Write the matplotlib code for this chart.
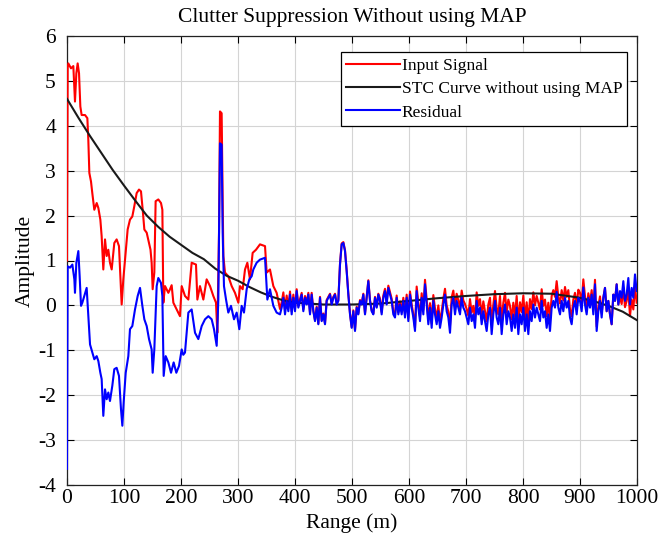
import numpy as np
import matplotlib
matplotlib.use("Agg")
import matplotlib.pyplot as plt

plt.rcParams['font.family'] = ['Liberation Serif', 'DejaVu Serif']
plt.rcParams['axes.unicode_minus'] = False

title = "Clutter Suppression Without using MAP"
xlabel = "Range (m)"
ylabel = "Amplitude"
legend_labels = ["Input Signal", "STC Curve without using MAP", "Residual"]
xticks = list(range(0, 1001, 100))
yticks = list(range(-4, 7, 1))

# ---- early (0-370 m) input signal ----
range_input_early = [0, 1.2, 2.3, 7.0, 11.1, 14.0, 16.4, 18.7, 21.1, 23.4, 25.7, 31.6, 35.7, 37.4,
                     39.2, 42.1, 44.4, 47.9, 52.1, 55.0, 58.5, 60.8, 63.7, 66.7, 69.6, 72.5, 75.4,
                     78.4, 83.0, 87.1, 91.2, 93.6, 95.9, 98.8, 101.8, 106.4, 110.5, 114.6, 118.1,
                     122.2, 126.3, 129.8, 132.8, 135.7, 139.8, 143.9, 146.5, 148.5, 150.3, 153.2,
                     155.5, 160.2, 164.9, 167.3, 169.0, 172.0, 177.8, 180.7, 183.6, 186.6, 192.4,
                     198.2, 201.2, 207.0, 212.9, 218.7, 226.3, 228.7, 233.3, 239.2, 245.0, 250.9,
                     256.7, 261.4, 263.7, 266.7, 268.4, 271.3, 273.1, 274.3, 277.2, 283.0, 288.9,
                     294.7, 300.6, 303.5, 308.2, 312.3, 316.4, 321.0, 325.7, 331.6, 338.6, 347.4,
                     350.3, 356.1, 362.0, 367.8]
input_early = [1.0, 5.30, 5.39, 5.28, 5.33, 4.54, 5.17, 5.39, 5.17, 4.43, 4.24, 4.24, 4.17, 3.69,
               2.95, 2.76, 2.50, 2.13, 2.28, 2.17, 1.91, 1.54, 0.80, 1.47, 1.10, 1.24, 0.95,
               0.80, 1.39, 1.47, 1.32, 0.65, 0.02, 0.58, 1.02, 1.69, 1.91, 1.98, 2.21,
               2.50, 2.58, 2.54, 2.13, 1.69, 1.62, 1.39, 1.24, 0.95, 0.36, 0.73,
               2.32, 2.36, 2.28, 2.13, 0.06, 0.43, 0.28, 0.36, 0.45, 0.06, -0.09,
               -0.24, 0.43, 0.21, 0.13, 0.95, 0.91, 0.13, 0.43, 0.13, 0.58, 0.43,
               0.21, 0.06, -0.61, 1.62, 4.32, 4.28, 2.36, 1.10, 0.73, 0.65, 0.43,
               0.28, 0.06, 0.43, 0.36, 0.80, 0.95, 0.58, 1.17, 1.24, 1.36, 1.32,
               0.73, 0.80, 0.43, 0.28]

# ---- early (0-370 m) residual ----
range_resid_early = [0, 1.2, 5.3, 9.4, 12.9, 14.0, 16.4, 19.9, 22.2, 24.6, 26.9, 30.4, 34.5, 37.4,
                     40.4, 44.4, 47.9, 52.1, 55.0, 58.5, 60.8, 63.7, 66.7, 69.6, 72.5, 75.4, 79.5,
                     83.0, 87.1, 91.2, 94.7, 97.1, 99.4, 103.0, 107.6, 110.5, 114.6, 119.3, 124.0,
                     128.1, 132.2, 135.7, 139.8, 143.9, 148.5, 150.3, 153.2, 157.3, 160.2, 164.9,
                     167.3, 169.6, 173.1, 177.8, 182.5, 187.1, 191.8, 196.5, 201.2, 204.0, 207.0,
                     209.9, 212.9, 218.7, 224.6, 230.4, 236.3, 242.1, 248.0, 253.8, 257.9, 262.6,
                     265.5, 268.4, 271.3, 273.1, 275.4, 279.0, 283.0, 287.7, 293.0, 297.7, 302.3,
                     306.4, 310.5, 315.2, 319.9, 324.0, 326.9, 332.7, 338.6, 347.4, 351.5, 356.1,
                     362.0, 367.8]
resid_early = [-3.64, 0.87, 0.84, 0.91, 0.58, 0.28, 0.95, 1.21, 0.65, -0.01, 0.06, 0.21, 0.39, -0.24,
               -0.87, -1.05, -1.20, -1.13, -1.24, -1.50, -1.64, -2.46, -1.87, -2.09, -1.94, -2.13, -1.79,
               -1.42, -1.39, -1.57, -2.31, -2.68, -2.16, -1.50, -1.13, -0.53, -0.46, -0.09, 0.21,
               0.39, -0.01, -0.31, -0.46, -0.75, -0.98, -1.50, -0.98, 0.43, 0.61, 0.50,
               0.21, -1.57, -1.13, -1.27, -1.50, -1.27, -1.50, -1.35, -0.98, -1.10, -1.05,
               -0.61, -0.16, -0.09, -0.61, -0.75, -0.46, -0.31, -0.24, -0.31, -0.53, -0.90,
               0.13, 3.61, 3.58, 1.62, 0.43, 0.13, -0.16, -0.01, -0.31, -0.16, -0.53,
               -0.01, -0.16, 0.36, 0.58, 0.65, 0.80, 0.95, 1.02, 1.06, 0.13, 0.36,
               -0.01, -0.16]

# ---- fine sampled noisy part (374-1000 m), read every ~3 m ----
input_fine = [
    -0.08, 0.07, 0.29, -0.08, 0.22, -0.06, 0.31, -0.13, 0.24, -0.06,
    0.36, -0.01, 0.14, 0.28, -0.09, 0.21, 0.06, 0.28, -0.16, 0.28,
    -0.11, -0.33, -0.03, -0.40, 0.19, -0.33, -0.18, -0.40, 0.12, 0.19,
    0.26, 0.04, 0.19, 0.26, 0.04, 0.12, 0.93, 1.38, 1.41, 1.23,
    0.78, 0.26, -0.18, -0.48, -0.11, -0.55, -0.03, -0.18, 0.12, 0.04,
    0.26, -0.18, 0.19, 0.56, 0.12, -0.11, -0.18, 0.19, -0.03, 0.26,
    0.15, -0.15, 0.22, 0.37, 0.07, 0.44, 0.29, 0.15, -0.15, -0.22, 0.22, -0.15,
    0.09, -0.13, 0.17, -0.20, 0.24, -0.28, 0.31, 0.02, -0.20, -0.50,
    0.42, 0.05, -0.25, 0.27, -0.10, 0.57, 0.12, -0.32, 0.05, -0.40,
    0.23, -0.07, -0.29, 0.00, -0.37, -0.14, 0.15, 0.37, 0.00, -0.14,
    -0.45, 0.18, 0.33, -0.04, 0.26, 0.11, -0.04, 0.33, 0.11, 0.03,
    -0.08, -0.23, 0.14, -0.16, -0.01, -0.31, 0.29, -0.01, 0.14, -0.23,
    0.09, -0.13, -0.35, 0.02, 0.17, -0.42, 0.02, 0.32, -0.05, -0.20,
    0.21, -0.38, 0.06, 0.28, -0.16, 0.13, -0.01, -0.31, 0.06, -0.24, 0.21, -0.38,
    0.07, -0.15, 0.22, -0.30, 0.07, -0.37, 0.14, -0.08, 0.29, 0.00,
    0.21, 0.06, -0.09, 0.36, -0.01, 0.13, -0.24, 0.06, -0.31, 0.21,
    0.34, 0.19, 0.54, 0.19, 0.04, 0.34, 0.11, 0.41, 0.19, 0.34,
    -0.09, -0.24, 0.13, 0.28, -0.02, 0.35, 0.28, 0.05, 0.58, 0.20,
    -0.10, 0.27, 0.05, 0.34, -0.10, 0.57, -0.47, -0.03, 0.20, -0.17,
    0.17, 0.39, -0.13, 0.10, -0.20, -0.42, 0.24, 0.10, 0.47, 0.02,
    0.18, 0.03, 0.40, -0.04, 0.10, 0.35, -0.24, 0.13, -0.09, 0.43, 0.06]

resid_fine = [
    -0.20, -0.05, 0.17, -0.20, 0.10, -0.13, 0.24, -0.20, 0.17, -0.13,
    0.32, -0.05, 0.10, 0.24, -0.13, 0.17, 0.02, 0.24, -0.20, 0.24,
    -0.13, -0.35, -0.05, -0.42, 0.17, -0.35, -0.20, -0.42, 0.10, 0.17,
    0.24, 0.02, 0.17, 0.24, 0.02, 0.10, 0.91, 1.36, 1.39, 1.21,
    0.76, 0.24, -0.20, -0.50, -0.13, -0.57, -0.05, -0.20, 0.10, 0.02,
    0.24, -0.20, 0.17, 0.54, 0.10, -0.13, -0.20, 0.17, -0.05, 0.24,
    0.10, -0.20, 0.17, 0.32, 0.02, 0.39, 0.24, 0.10, -0.20, -0.27, 0.17, -0.20,
    0.02, -0.20, 0.10, -0.27, 0.17, -0.35, 0.24, -0.05, -0.27, -0.57,
    0.32, -0.05, -0.35, 0.17, -0.20, 0.47, 0.02, -0.42, -0.05, -0.50,
    0.10, -0.20, -0.42, -0.13, -0.50, -0.27, 0.02, 0.24, -0.13, -0.27,
    -0.61, 0.02, 0.17, -0.20, 0.10, -0.05, -0.20, 0.17, -0.05, -0.13,
    -0.27, -0.42, -0.05, -0.35, -0.20, -0.50, 0.10, -0.20, -0.05, -0.42,
    -0.13, -0.35, -0.57, -0.20, -0.05, -0.64, -0.20, 0.10, -0.27, -0.42,
    -0.05, -0.64, -0.20, 0.02, -0.42, -0.13, -0.27, -0.57, -0.20, -0.50, -0.05, -0.64,
    -0.20, -0.42, -0.05, -0.57, -0.20, -0.64, -0.13, -0.35, 0.02, -0.27,
    -0.05, -0.20, -0.35, 0.10, -0.27, -0.13, -0.50, -0.20, -0.57, -0.05,
    0.10, -0.05, 0.30, -0.05, -0.20, 0.10, -0.13, 0.17, -0.05, 0.10,
    -0.27, -0.42, -0.05, 0.10, -0.20, 0.17, 0.10, -0.13, 0.40, 0.02,
    -0.20, 0.17, -0.05, 0.24, -0.20, 0.47, -0.57, -0.13, 0.10, -0.27,
    0.17, 0.39, -0.13, 0.10, -0.20, -0.42, 0.24, 0.10, 0.47, 0.02,
    0.32, 0.17, 0.54, 0.10, 0.24, 0.61, 0.02, 0.39, 0.17, 0.69, 0.32]

range_fine = np.linspace(373.7, 999.4, len(resid_fine))

# ---- STC curve ----
range_stc = [0, 20, 40, 60, 80, 100, 120, 140, 160, 180, 200, 220, 240, 260, 280, 300, 320, 340,
             360, 380, 400, 450, 500, 550, 600, 650, 700, 750, 800, 850, 900, 925, 950, 975, 1000]
stc_curve = [4.6, 4.18, 3.78, 3.4, 3.02, 2.67, 2.33, 2.0, 1.75, 1.53, 1.35, 1.17, 1.03, 0.82,
             0.66, 0.55, 0.41, 0.29, 0.19, 0.11, 0.06, 0.02, 0.02, 0.04, 0.10, 0.16, 0.21, 0.25,
             0.27, 0.26, 0.17, 0.09, -0.01, -0.14, -0.33]

x_input = np.concatenate([range_input_early, range_fine])
y_input = np.concatenate([input_early, input_fine])
x_resid = np.concatenate([range_resid_early, range_fine])
y_resid = np.concatenate([resid_early, resid_fine])

fig = plt.figure(figsize=(6.71, 5.46), dpi=100)
ax = fig.add_axes([67 / 671, 1 - 485 / 546, 570 / 671, 449 / 546])

lw = 1.5
ax.plot(x_input, y_input, color='#ff0000', lw=lw, label=legend_labels[0], zorder=3)
ax.plot(range_stc, stc_curve, color='#1a1a1a', lw=lw, label=legend_labels[1], zorder=4)
ax.plot(x_resid, y_resid, color='#0000ff', lw=lw, label=legend_labels[2], zorder=5)

ax.set_xlim(0, 1000)
ax.set_ylim(-4, 6)
ax.set_xticks(xticks)
ax.set_yticks(yticks)
ax.grid(True, color='#d4d4d4', lw=0.8)
ax.set_axisbelow(True)
ax.tick_params(direction='in', top=True, right=True, length=5, width=0.8,
               labelsize=15.5)
ax.tick_params(axis='y', pad=8)
ax.tick_params(axis='x', pad=3)
for s in ax.spines.values():
    s.set_linewidth(0.9)
    s.set_color('#222222')

ax.set_title(title, fontsize=15.5, pad=10)
ax.set_xlabel(xlabel, fontsize=15.5, labelpad=4)
ax.set_ylabel(ylabel, fontsize=15.5, labelpad=2)

leg = ax.legend(loc='upper right', bbox_to_anchor=(0.9985, 0.983), fontsize=12.5,
                handlelength=3.1, handletextpad=0.1, borderpad=0.3, labelspacing=0.42,
                fancybox=False, framealpha=1, edgecolor='black')
leg.get_frame().set_linewidth(0.9)

fig.savefig("out.png", dpi=100)
